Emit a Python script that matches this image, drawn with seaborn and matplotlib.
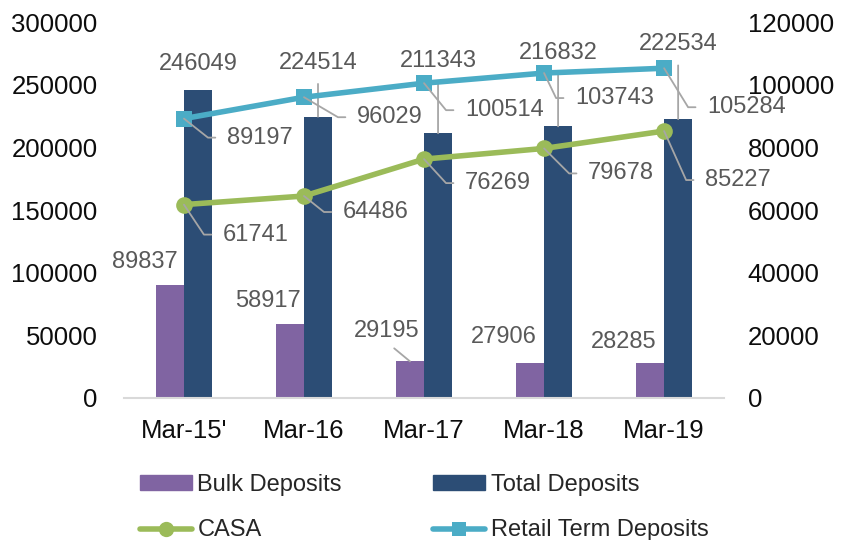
import numpy as np
import pandas as pd
import matplotlib.pyplot as plt
import seaborn as sns
from matplotlib.lines import Line2D
from matplotlib.patches import Patch
from matplotlib.ticker import StrMethodFormatter

# data
years = ["Mar-15'", "Mar-16", "Mar-17", "Mar-18", "Mar-19"]
bulk = [89837, 58917, 29195, 27906, 28285]
total = [246049, 224514, 211343, 216832, 222534]
casa = [61741, 64486, 76269, 79678, 85227]
retail = [89197, 96029, 100514, 103743, 105284]

# label offsets in pixels (dx, dy), estimated by eye
bulk_off = [(-25, 23), (-22, 23), (-23, 30), (-26, 26), (-26, 21)]
bulk_leader = [False, False, True, False, False]
total_off = [(0, 26), (0, 54), (0, 72), (0, 73), (0, 75)]
casa_off = [(39, -30), (39, -16), (41, -24), (44, -25), (41, -49)]
retail_off = [(43, -19), (53, -20), (41, -27), (31, -25), (43, -39)]

purple = "#8064A2"
navy = "#2C4D75"
green = "#9BBB59"
blue = "#4BACC6"
label_col = "#595959"
lead_col = "#A6A6A6"

sns.set_style("white")
plt.rcParams["font.family"] = ["Liberation Sans", "DejaVu Sans"]

fig = plt.figure(figsize=(8.43, 5.4), dpi=100)
ax = fig.add_axes([0.147, 0.263, 0.712, 0.696])

df = pd.DataFrame({
    "Year": years * 2,
    "Type": ["Bulk Deposits"] * 5 + ["Total Deposits"] * 5,
    "Value": bulk + total,
})
sns.barplot(data=df, x="Year", y="Value", hue="Type", palette=[purple, navy],
            width=0.467, gap=0, saturation=1, linewidth=0, legend=False, ax=ax)

ax2 = ax.twinx()
xs = np.arange(len(years))
sns.lineplot(x=xs, y=casa, ax=ax2, color=green, lw=4, marker="o",
             markersize=12, markeredgewidth=0)
sns.lineplot(x=xs, y=retail, ax=ax2, color=blue, lw=4, marker="s",
             markersize=11, markeredgewidth=0)

ax.set_xlim(-0.5, 4.5)
ax.set_ylim(0, 300000)
ax.set_yticks(range(0, 300001, 50000))
ax2.set_ylim(0, 120000)
ax2.set_yticks(range(0, 120001, 20000))
for a in (ax, ax2):
    a.set_xlabel("")
    a.set_ylabel("")
    a.yaxis.set_major_formatter(StrMethodFormatter("{x:.0f}"))
    for s in a.spines.values():
        s.set_visible(False)
ax.spines["bottom"].set_visible(True)
ax.spines["bottom"].set_color("#D9D9D9")
ax.spines["bottom"].set_linewidth(1.5)

ax.tick_params(axis="y", length=0, pad=19, labelsize=18.5, labelcolor="#0d0d0d")
ax.tick_params(axis="x", length=0, pad=15, labelsize=18.5, labelcolor="#0d0d0d")
ax2.tick_params(axis="y", length=0, pad=17, labelsize=18.5, labelcolor="#0d0d0d")

# bar labels
for bar, v, (dx, dy), lead in zip(ax.containers[0], bulk, bulk_off, bulk_leader):
    x = bar.get_x() + bar.get_width() / 2
    ap = dict(arrowstyle="-", color=lead_col, lw=1.3, relpos=(0.5, 0),
              shrinkA=3, shrinkB=0) if lead else None
    ax.annotate(f"{v}", xy=(x, bar.get_height()), xytext=(dx, dy),
                textcoords="offset pixels", ha="center", va="center",
                fontsize=17, color=label_col, arrowprops=ap,
                annotation_clip=False)

for bar, v, (dx, dy) in zip(ax.containers[1], total, total_off):
    x = bar.get_x() + bar.get_width() / 2
    ap = dict(arrowstyle="-", color=lead_col, lw=1.3, relpos=(0.5, 0),
              shrinkA=5, shrinkB=0) if dy > 40 else None
    ax.annotate(f"{v}", xy=(x, bar.get_height()), xytext=(dx, dy),
                textcoords="offset pixels", ha="center", va="center",
                fontsize=17, color=label_col, arrowprops=ap,
                annotation_clip=False)

# line labels with elbow leaders
for vals, offs in ((casa, casa_off), (retail, retail_off)):
    for i, (v, (dx, dy)) in enumerate(zip(vals, offs)):
        ang = np.degrees(np.arctan2(dy, dx - 19))
        ax2.annotate(f"{v}", xy=(i, v), xytext=(dx, dy),
                     textcoords="offset pixels", ha="left", va="center",
                     fontsize=17, color=label_col, annotation_clip=False,
                     arrowprops=dict(arrowstyle="-", color=lead_col, lw=1.3,
                                     relpos=(0, 0.5), shrinkA=6, shrinkB=0,
                                     connectionstyle=f"angle,angleA=0,angleB={ang},rad=0"))

handles = [
    Patch(color=purple, label="Bulk Deposits"),
    Line2D([0], [0], color=green, lw=4, marker="o", ms=11, mew=0, label="CASA"),
    Patch(color=navy, label="Total Deposits"),
    Line2D([0], [0], color=blue, lw=4, marker="s", ms=10, mew=0,
           label="Retail Term Deposits"),
]
fig.legend(handles=handles, ncol=2, loc="center", bbox_to_anchor=(0.503, 0.06),
           frameon=False, fontsize=17, handlelength=2.2, handleheight=0.55,
           handletextpad=0.25, columnspacing=3.85, labelspacing=1.0, borderpad=0)

fig.savefig("out.png", dpi=100)
